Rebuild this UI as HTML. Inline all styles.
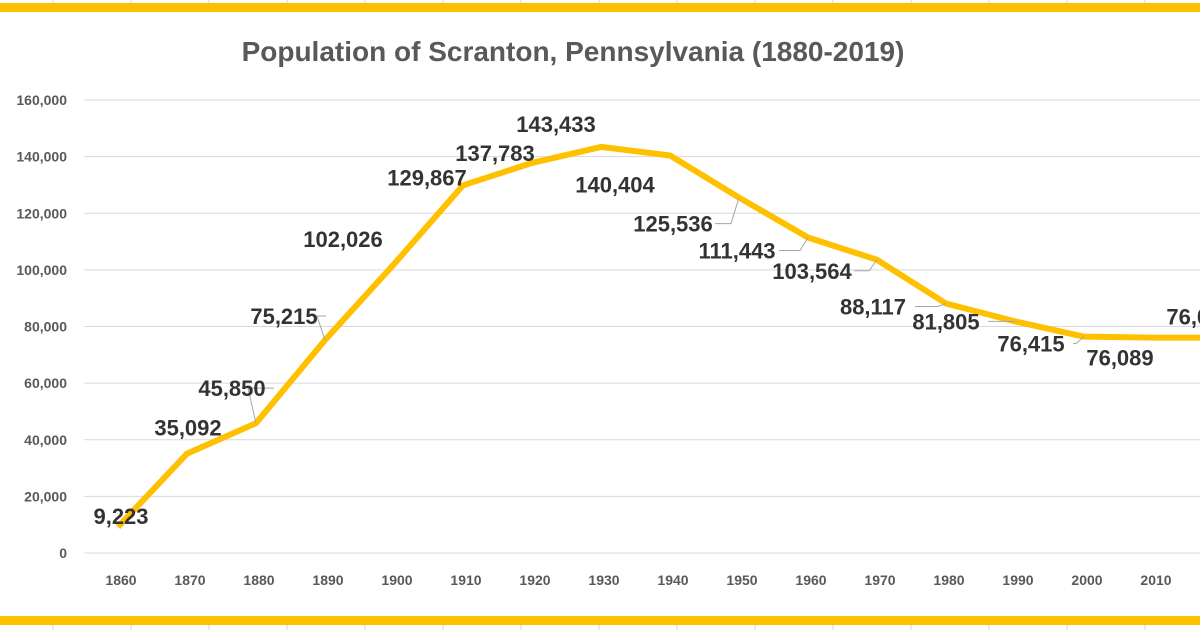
<!DOCTYPE html>
<html><head><meta charset="utf-8"><style>
body{margin:0;background:#fff;width:1200px;height:630px;overflow:hidden;font-family:"Liberation Sans",sans-serif}
</style></head><body>
<svg id="c" width="1200" height="630" xmlns="http://www.w3.org/2000/svg"></svg>
<script>
const years=["1860","1870","1880","1890","1900","1910","1920","1930","1940","1950","1960","1970","1980","1990","2000","2010","2020"];
const population=[9223,35092,45850,75215,102026,129867,137783,143433,140404,125536,111443,103564,88117,81805,76415,76089,76065];
const labelText=["9,223","35,092","45,850","75,215","102,026","129,867","137,783","143,433","140,404","125,536","111,443","103,564","88,117","81,805","76,415","76,089","76,065"];
const yTicks=[0,20000,40000,60000,80000,100000,120000,140000,160000];
const yTickLabels=["0","20,000","40,000","60,000","80,000","100,000","120,000","140,000","160,000"];
const lblOff=[[3,-11],[1,-26],[-24,-35],[-41,-24],[-51,-25],[-36,-8],[-37,-10],[-45,-23],[-55,29],[-66,26],[-71,13],[-65,11],[-73,3],[-69,0],[-53,7],[-33,20],[-22,-21]];
const leader=[0,0,1,1,0,0,0,0,0,1,1,1,1,1,1,0,0];
const svg=document.getElementById('c');
const NS='http://www.w3.org/2000/svg';
const x=i=>118+69.0*i;
const y=v=>553-v*453/160000;
function mk(t,a,p){const e=document.createElementNS(NS,t);for(const k in a)e.setAttribute(k,a[k]);(p||svg).appendChild(e);return e;}
for(let gx=53;gx<1200;gx+=78){
 const t=mk('line',{x1:gx,y1:0,x2:gx,y2:5,stroke:'#d0d0d0'});
 
 const b=mk('line',{x1:gx,y1:622,x2:gx,y2:630,stroke:'#d0d0d0'});
 
}
const st=mk('rect',{x:0,y:3,width:1200,height:9,fill:'#FFC000'});

const sb=mk('rect',{x:0,y:616,width:1200,height:9,fill:'#FFC000'});

const title=mk('text',{x:573,y:61,'text-anchor':'middle','font-size':28,'font-weight':'bold',fill:'#595959'});
title.textContent='Population of Scranton, Pennsylvania (1880-2019)';

yTicks.forEach((v,i)=>{
 const g=mk('line',{x1:84,y1:y(v),x2:1200,y2:y(v),stroke:'#d9d9d9','stroke-width':1});
 
 const t=mk('text',{x:67,y:y(v)+5,'text-anchor':'end','font-size':14,'font-weight':'bold',fill:'#595959'});
 t.textContent=yTickLabels[i];
 
});
years.forEach((yr,i)=>{
 const t=mk('text',{x:x(i)+3,y:585,'text-anchor':'middle','font-size':14,'font-weight':'bold',fill:'#595959'});
 t.textContent=yr;
 
});
const line=mk('polyline',{points:population.map((v,i)=>x(i)+','+y(v)).join(' '),fill:'none',stroke:'#FFC000','stroke-width':6,'stroke-linejoin':'round'});

population.forEach((v,i)=>{
 const px=x(i),py=y(v),lx=px+lblOff[i][0],ly=py+lblOff[i][1];
 if(leader[i]){
  const l=mk('polyline',{points:(lx+42)+','+(ly)+' '+(px-8)+','+(ly)+' '+px+','+py,fill:'none',stroke:'#a6a6a6','stroke-width':1});
  
 }
 const t=mk('text',{x:lx,y:ly+8,'text-anchor':'middle','font-size':22,'font-weight':'bold',fill:'#333'});
 t.textContent=labelText[i];
 
});
</script>
</body></html>
